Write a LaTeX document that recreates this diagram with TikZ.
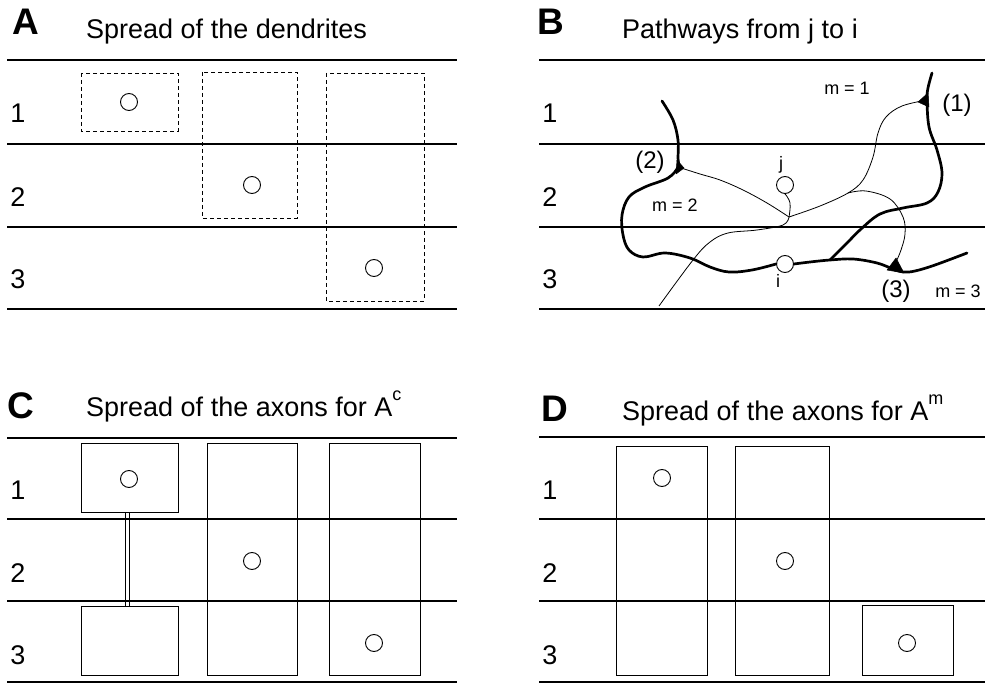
\documentclass[tikz,border=0pt]{standalone}
\usepackage{fontspec}
\setmainfont{Liberation Sans}
\tikzset{
  rule/.style={line width=1.2pt},
  edge/.style={line width=1.8pt},
  dbox/.style={draw, dash pattern=on 4pt off 3pt, line width=0.9pt},
  sbox/.style={draw, line width=1pt},
  cell/.style={circle, draw, line width=0.9pt, minimum size=17pt, inner sep=0pt},
  axon/.style={line width=2.7pt, line cap=round, line join=round},
  fibre/.style={line width=0.8pt},
  syn/.style={fill=black, draw=black, line width=0.5pt, line join=round},
  panel/.style={font=\fontsize{37}{38}\selectfont\bfseries, anchor=base west, inner sep=0pt},
  title/.style={font=\fontsize{27}{30}\selectfont, anchor=base west, inner sep=0pt},
  row/.style={font=\fontsize{27}{30}\selectfont, inner sep=0pt},
  small/.style={font=\fontsize{18}{20}\selectfont, inner sep=0pt},
  mid/.style={font=\fontsize{24}{26}\selectfont, inner sep=0pt},
  letter/.style={font=\fontsize{18}{20}\selectfont, inner sep=0pt},
}
\newcommand{\supx}[2]{\raisebox{#1}{\fontsize{18}{18}\selectfont #2}}
\begin{document}
\begin{tikzpicture}[x=1pt, y=-1pt]
\useasboundingbox (0,0) rectangle (985,684);

% ---------------- Panel A ----------------
\node[panel] (lA) at (12,35) {A};
\node[title] (tA) at (86,39) {Spread of the dendrites};
\draw[edge] (7,60) -- (457,60);
\draw[rule] (7,144) -- (457,144);
\draw[rule] (7,227) -- (457,227);
\draw[edge] (7,309) -- (457,309);
\node[row] (rA1) at (18,113) {1};
\node[row] (rA2) at (18,197) {2};
\node[row] (rA3) at (18,279) {3};
\draw[dbox] (81,73) rectangle (178,131);
\draw[dbox] (202,72) rectangle (297,218);
\draw[dbox] (326,73) rectangle (424,301);
\node[cell] (cA1) at (129,102) {};
\node[cell] (cA2) at (252,185) {};
\node[cell] (cA3) at (374,268) {};

% ---------------- Panel B ----------------
\node[panel] (lB) at (537,35) {B};
\node[title] (tB) at (622,39) {Pathways from j to i};
\draw[edge] (539,60) -- (985,60);
\draw[rule] (539,144) -- (985,144);
\draw[rule] (539,227) -- (985,227);
\draw[edge] (539,309) -- (985,309);
\node[row] (rB1) at (550,113) {1};
\node[row] (rB2) at (550,197) {2};
\node[row] (rB3) at (550,279) {3};

\node[cell] (jc) at (785,185) {};
\node[cell] (ic) at (785,264) {};
\coordinate (s1) at (927,100);
\coordinate (s2) at (678,167);
\coordinate (s3) at (896,262);
\coordinate (mp) at (789,217);
\coordinate (br) at (848,193);
\coordinate (jn) at (830,260);
\coordinate (topL) at (662,101);
\coordinate (topR) at (932,73);
\coordinate (endR) at (967,253);
\coordinate (endL) at (659,306);

% thick axons
\draw[axon] plot[smooth, tension=0.6] coordinates {(topL) (673,120) (678,140) (678,158) (s2) (668,178) (645,187) (629,197) (622,215) (623,235) (629,250) (643,257) (665,253) (690,258) (710,267) (729,272) (752,270) (ic.west)};
\draw[axon] plot[smooth, tension=0.6] coordinates {(ic.east) (810,262) (jn) (853,259) (877,263) (893,269) (903,272) (915,271) (935,265) (endR)};
\draw[axon] plot[smooth, tension=0.6] coordinates {(jn) (847,243) (861,229) (880,214) (903,208) (927,203) (938,192) (942,173) (937,150) (929,127) (s1) (928,88) (topR)};

% thin fibres
\draw[fibre] plot[smooth, tension=0.6] coordinates {(s2) (700,174) (720,180) (743,190) (767,203) (mp)};
\draw[fibre] plot[smooth, tension=0.7] coordinates {(jc.south) (790,203) (mp)};
\draw[fibre] plot[smooth, tension=0.6] coordinates {(mp) (820,206) (br) (863,180) (873,157) (878,133) (886,117) (902,106) (s1)};
\draw[fibre] plot[smooth, tension=0.6] coordinates {(br) (866,191) (890,199) (903,217) (905,234) (901,250) (s3)};
\draw[fibre] plot[smooth, tension=0.6] coordinates {(mp) (783,225) (757,230) (728,233) (710,242) (693,260) (endL)};

% synapses
\fill[syn] (928,93) -- (929,107) -- (918,102) -- cycle;
\fill[syn] (677,160) -- (676,174) -- (684,168) -- cycle;
\fill[syn] (887,270) -- (904,273) -- (896,258) -- cycle;

\node[small] (m1) at (847,88) {m = 1};
\node[small] (m2) at (675,205) {m = 2};
\node[small] (m3) at (958,291) {m = 3};
\node[mid] (n1) at (957,105) {(1)};
\node[mid] (n2) at (650,162) {(2)};
\node[mid] (n3) at (896,291) {(3)};
\node[letter] (jl) at (781,165) {j};
\node[letter] (il) at (778,281) {i};

% ---------------- Panel C ----------------
\node[panel] (lC) at (7,418) {C};
\node[title] (tC) at (86,417) {Spread of the axons for A\supx{17pt}{c}};
\draw[edge] (7,438) -- (457,438);
\draw[rule] (7,519) -- (457,519);
\draw[rule] (7,601) -- (457,601);
\draw[edge] (7,682) -- (457,682);
\node[row] (rC1) at (18,490) {1};
\node[row] (rC2) at (18,573) {2};
\node[row] (rC3) at (18,655) {3};
\draw[sbox] (81,443) rectangle (178,512);
\draw[sbox] (81,606) rectangle (178,675);
\draw[sbox] (207,443) rectangle (297,675);
\draw[sbox] (329,443) rectangle (420,675);
\coordinate (ct1) at (125.5,512);
\coordinate (cb1) at (125.5,606);
\coordinate (ct2) at (129.5,512);
\coordinate (cb2) at (129.5,606);
\draw[line width=0.8pt] (ct1) -- (cb1);
\draw[line width=0.8pt] (ct2) -- (cb2);
\node[cell] (cC1) at (129,479) {};
\node[cell] (cC2) at (252,561) {};
\node[cell] (cC3) at (374,643) {};

% ---------------- Panel D ----------------
\node[panel] (lD) at (541,421) {D};
\node[title] (tD) at (622,420) {Spread of the axons for A\supx{16pt}{m}};
\draw[edge] (539,437) -- (985,437);
\draw[rule] (539,519) -- (985,519);
\draw[rule] (539,601) -- (985,601);
\draw[edge] (539,682) -- (985,682);
\node[row] (rD1) at (550,490) {1};
\node[row] (rD2) at (550,573) {2};
\node[row] (rD3) at (550,655) {3};
\draw[sbox] (616,446) rectangle (707,675);
\draw[sbox] (735,446) rectangle (829,675);
\draw[sbox] (862,605) rectangle (953,675);
\node[cell] (cD1) at (662,478) {};
\node[cell] (cD2) at (785,561) {};
\node[cell] (cD3) at (907,643) {};
\end{tikzpicture}
\end{document}
